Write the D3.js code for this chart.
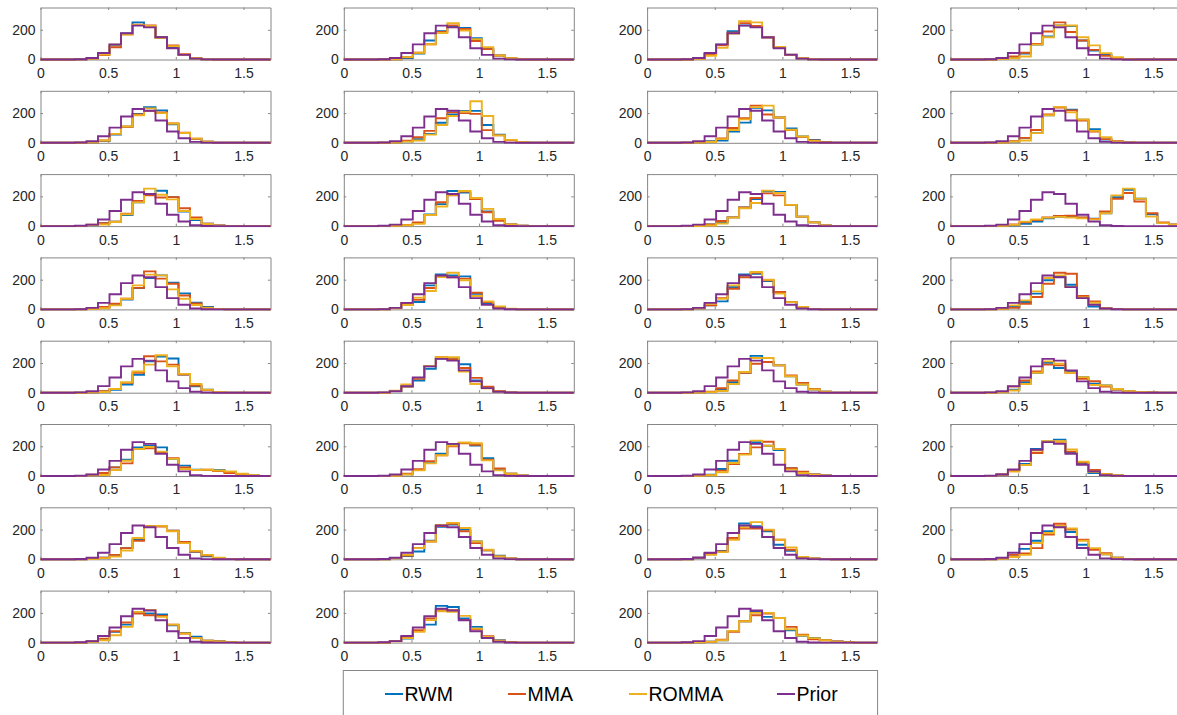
<!DOCTYPE html>
<html>
<head>
<meta charset="utf-8">
<script src="https://cdn.jsdelivr.net/npm/d3@7"></script>
<style>
  html, body { margin: 0; padding: 0; background: #fff; overflow: hidden; }
  svg { display: block; }
  text { font-family: "Liberation Sans", Arial, Helvetica, sans-serif; }
</style>
</head>
<body>
<svg id="fig" width="1177" height="715"></svg>
<script>
// Histogram bin edges (20 bins of width 0.085 over [0, 1.7])
const binEdges = [0, 0.085, 0.17, 0.255, 0.34, 0.425, 0.51, 0.595, 0.68, 0.765, 0.85,
                  0.935, 1.02, 1.105, 1.19, 1.275, 1.36, 1.445, 1.53, 1.615, 1.7];
const xTicks = [0, 0.5, 1, 1.5];
const xTickLabels = ["0", "0.5", "1", "1.5"];
const yTicks = [0, 200];
const yTickLabels = ["0", "200"];
const seriesNames = ["RWM", "MMA", "ROMMA", "Prior"];
const seriesColors = ["#0072BD", "#D95319", "#EDB120", "#7E2F8E"];

// Prior sample counts per bin (same prior in every panel)
const priorCounts = [0,0,0,2,10,44,102,177,228,216,150,76,31,6,1,0,0,0,0,0];

// RWM posterior counts, one row per parameter panel
const rwmCounts = [
  [0,0,0,1,8,38,95,175,250,222,150,82,30,6,1,0,0,0,0,0],
  [0,0,0,0,2,10,40,128,190,225,213,144,70,27,8,2,0,0,0,0],
  [0,0,0,0,8,38,100,191,230,220,150,85,32,8,2,0,0,0,0,0],
  [0,0,0,0,5,15,40,100,155,229,225,128,60,31,10,2,0,0,0,0],
  [0,0,0,0,3,12,55,108,195,240,218,125,66,26,7,1,0,0,0,0],
  [0,0,0,0,3,10,25,60,135,190,215,215,120,55,18,5,1,0,0,0],
  [0,0,0,0,3,10,15,75,136,235,218,170,97,42,20,5,1,0,0,0],
  [0,0,0,0,3,8,33,65,185,240,222,155,92,22,8,2,0,0,0,0],
  [0,0,0,0,8,20,30,75,160,211,238,195,98,41,16,4,0,0,0,0],
  [0,0,0,0,3,8,20,78,148,236,225,182,98,48,11,3,0,0,0,0],
  [0,0,0,0,2,11,25,59,125,182,234,230,143,64,25,5,0,0,0,0],
  [0,0,0,0,2,5,15,30,52,62,64,57,50,86,195,245,184,80,22,10],
  [0,0,0,0,4,14,30,67,144,211,229,180,108,45,16,3,0,0,0,0],
  [0,0,0,0,10,30,50,162,236,229,222,105,40,16,3,0,0,0,0,0],
  [0,0,0,0,8,27,54,150,236,240,190,117,49,16,3,0,0,0,0,0],
  [0,0,0,0,5,16,50,106,196,218,166,76,20,8,2,0,0,0,0,0],
  [0,0,0,0,3,8,20,55,120,211,243,230,123,43,20,5,0,0,0,0],
  [0,0,0,0,11,41,82,161,230,234,191,82,36,11,2,0,0,0,0,0],
  [0,0,0,0,2,5,20,70,134,248,207,184,111,55,22,7,0,0,0,0],
  [0,0,0,0,4,20,70,134,202,166,143,105,60,48,22,10,4,2,0,0],
  [0,0,0,0,6,15,58,110,193,204,193,115,70,42,40,40,25,10,3,0],
  [0,0,0,0,3,12,40,95,150,215,222,205,120,40,15,4,0,0,0,0],
  [0,0,0,0,3,8,47,103,148,227,204,175,52,25,10,3,0,0,0,0],
  [0,0,0,0,10,40,81,182,232,245,160,81,20,12,3,0,0,0,0,0],
  [0,0,0,0,3,11,30,75,132,223,225,193,109,50,20,8,3,0,0,0],
  [0,0,0,0,8,22,52,125,218,234,200,120,60,25,5,0,0,0,0,0],
  [0,0,0,0,10,34,57,136,241,223,189,98,57,16,5,2,0,0,0,0],
  [0,0,0,0,5,20,70,125,189,225,184,98,70,34,11,3,0,0,0,0],
  [0,0,0,0,6,20,72,121,207,196,189,117,65,40,13,9,4,0,0,0],
  [0,0,0,0,10,27,79,121,247,240,162,106,38,16,4,0,0,0,0,0],
  [0,0,0,0,2,6,16,79,144,209,173,166,83,45,31,18,8,3,0,0]
];

// MMA posterior counts
const mmaCounts = [
  [0,0,0,1,6,30,82,170,235,230,148,95,35,8,1,0,0,0,0,0],
  [0,0,0,0,2,15,45,103,185,230,205,125,70,27,8,2,0,0,0,0],
  [0,0,0,0,7,35,95,180,245,225,148,84,32,8,2,0,0,0,0,0],
  [0,0,0,0,5,20,45,105,188,250,185,128,65,25,8,2,0,0,0,0],
  [0,0,0,0,3,15,60,108,190,215,205,130,68,27,7,1,0,0,0,0],
  [0,0,0,0,3,14,37,80,165,205,200,195,85,50,16,4,1,0,0,0],
  [0,0,0,0,3,8,30,100,165,250,190,170,85,40,15,4,1,0,0,0],
  [0,0,0,0,3,10,33,86,190,238,218,150,75,25,10,3,0,0,0,0],
  [0,0,0,0,10,20,30,84,170,207,193,195,120,59,16,4,0,0,0,0],
  [0,0,0,0,3,8,25,75,161,207,232,182,93,35,11,3,0,0,0,0],
  [0,0,0,0,2,11,34,59,125,189,220,207,143,64,25,5,0,0,0,0],
  [0,0,0,0,3,11,25,41,59,68,70,59,48,98,184,223,166,86,25,11],
  [0,0,0,0,4,16,38,72,145,256,207,173,94,40,12,3,0,0,0,0],
  [0,0,0,0,10,40,65,144,225,216,207,112,50,16,3,0,0,0,0,0],
  [0,0,0,0,8,27,76,139,216,247,196,117,49,16,3,0,0,0,0,0],
  [0,0,0,0,4,10,38,83,173,247,240,90,54,8,2,0,0,0,0,0],
  [0,0,0,0,3,10,25,66,134,245,211,189,123,48,18,4,0,0,0,0],
  [0,0,0,0,11,41,93,180,239,225,166,100,41,11,2,0,0,0,0,0],
  [0,0,0,0,2,6,30,82,134,195,207,184,116,66,25,7,0,0,0,0],
  [0,0,0,0,5,41,82,143,189,184,134,93,77,41,22,8,4,2,0,0],
  [0,0,0,0,8,20,58,85,182,186,160,120,58,40,42,33,20,13,4,0],
  [0,0,0,0,3,15,45,100,140,200,220,210,110,50,15,4,0,0,0,0],
  [0,0,0,0,3,6,36,81,148,193,231,182,52,29,10,3,0,0,0,0],
  [0,0,0,0,10,40,74,155,231,231,164,90,40,14,3,0,0,0,0,0],
  [0,0,0,0,3,11,30,75,125,223,220,193,116,52,25,8,3,0,0,0],
  [0,0,0,0,8,25,75,120,223,239,189,109,60,20,5,0,0,0,0,0],
  [0,0,0,0,10,41,52,143,207,207,195,132,64,16,5,2,0,0,0,0],
  [0,0,0,0,5,30,40,75,166,239,200,132,64,41,11,3,0,0,0,0],
  [0,0,0,0,8,27,76,135,196,184,180,121,61,30,13,8,3,0,0,0],
  [0,0,0,0,10,38,83,162,218,218,153,90,43,12,4,0,0,0,0,0],
  [0,0,0,0,2,6,20,72,144,184,196,166,106,54,22,16,8,3,0,0]
];

// ROMMA posterior counts
const rommaCounts = [
  [0,0,0,1,7,33,100,168,232,225,145,90,30,7,1,0,0,0,0,0],
  [0,0,0,0,2,16,45,103,178,245,195,137,83,27,8,2,0,0,0,0],
  [0,0,0,0,5,25,78,175,258,250,152,85,30,8,2,0,0,0,0,0],
  [0,0,0,0,3,8,20,100,150,229,229,150,95,43,15,3,0,0,0,0],
  [0,0,0,0,3,15,60,110,185,232,200,130,66,28,8,1,0,0,0,0],
  [0,0,0,0,2,8,15,55,120,180,210,280,180,50,20,5,1,0,0,0],
  [0,0,0,0,2,5,25,86,158,240,250,170,88,42,12,3,0,0,0,0],
  [0,0,0,0,2,8,15,65,185,242,205,157,80,37,8,2,0,0,0,0],
  [0,0,0,0,8,11,28,80,160,252,211,180,102,48,14,3,0,0,0,0],
  [0,0,0,0,2,6,15,75,132,211,236,189,116,48,11,3,0,0,0,0],
  [0,0,0,0,1,4,18,57,120,155,239,223,143,64,25,5,0,0,0,0],
  [0,0,0,0,2,8,30,45,57,62,57,52,45,86,207,252,184,64,20,10],
  [0,0,0,0,3,8,27,72,162,234,229,135,72,30,10,2,0,0,0,0],
  [0,0,0,0,8,30,79,124,218,247,196,90,54,20,4,0,0,0,0,0],
  [0,0,0,0,8,38,72,162,225,252,200,106,49,16,3,0,0,0,0,0],
  [0,0,0,0,4,27,61,121,211,229,151,80,45,8,2,0,0,0,0,0],
  [0,0,0,0,2,5,25,70,143,189,252,177,127,59,20,5,0,0,0,0],
  [0,0,0,0,13,55,100,180,239,239,143,59,30,8,2,0,0,0,0,0],
  [0,0,0,0,1,4,11,59,139,234,234,184,111,55,22,6,0,0,0,0],
  [0,0,0,0,3,15,59,134,211,195,134,105,52,48,25,10,5,2,0,0],
  [0,0,0,0,5,7,40,103,182,195,164,115,47,40,42,37,30,15,5,0],
  [0,0,0,0,2,10,38,85,140,205,225,220,105,38,15,3,0,0,0,0],
  [0,0,0,0,2,5,25,88,144,238,204,182,43,20,8,2,0,0,0,0],
  [0,0,0,0,8,30,74,171,234,234,178,97,29,12,3,0,0,0,0,0],
  [0,0,0,0,2,8,18,59,143,223,225,189,109,57,30,10,3,0,0,0],
  [0,0,0,0,6,30,75,120,232,245,211,120,64,20,5,0,0,0,0,0],
  [0,0,0,0,8,30,48,132,216,250,200,132,80,16,5,2,0,0,0,0],
  [0,0,0,0,3,15,30,110,177,225,207,125,75,34,11,3,0,0,0,0],
  [0,0,0,0,5,16,49,106,207,220,173,121,61,30,12,8,3,0,0,0],
  [0,0,0,0,8,30,72,151,211,207,180,94,38,12,3,0,0,0,0,0],
  [0,0,0,0,2,5,16,79,144,200,200,166,90,48,30,16,6,2,0,0]
];

// ---- layout ----
const svg = d3.select("#fig");
const nCols = 4;
const panelW = 230, panelH = 52;
const colLeft = c => 40.5 + 303.3 * c;
const rowTop = r => 7.5 + 83.3 * r;
const axisColor = "#868686";
const labelColor = "#262626";

const x = d3.scaleLinear().domain([0, 1.7]).range([0, panelW]);
const y = d3.scaleLinear().domain([0, 350]).range([panelH, 0]);

// Stair outline of a histogram: up from zero at the first edge, across every bin, back to zero
const stairLine = d3.line().x(d => x(d[0])).y(d => y(d[1]));
function stairPoints(counts) {
  const pts = [[binEdges[0], 0]];
  counts.forEach((c, i) => {
    pts.push([binEdges[i], c]);
    pts.push([binEdges[i + 1], c]);
  });
  pts.push([binEdges[binEdges.length - 1], 0]);
  return pts;
}

function styleAxis(g) {
  g.selectAll(".domain").attr("stroke", axisColor).attr("stroke-width", 1);
  g.selectAll(".tick line").attr("stroke", axisColor).attr("stroke-width", 1);
  g.selectAll(".tick text").attr("fill", labelColor).attr("font-size", 14)
    .attr("font-family", "'Liberation Sans', Arial, Helvetica, sans-serif");
}

rwmCounts.forEach((_, i) => {
  const r = Math.floor(i / nCols), c = i % nCols;
  const g = svg.append("g").attr("transform", `translate(${colLeft(c)},${rowTop(r)})`);

  g.append("rect").attr("width", panelW).attr("height", panelH).attr("fill", "#fff");

  // box with inward ticks on all four sides
  g.append("g").attr("transform", `translate(0,${panelH})`)
    .call(d3.axisBottom(x).tickValues(xTicks).tickFormat((d, k) => xTickLabels[k])
      .tickSizeInner(-2.5).tickSizeOuter(0).tickPadding(8.5))
    .call(styleAxis);
  g.append("g")
    .call(d3.axisTop(x).tickValues(xTicks).tickFormat("").tickSizeInner(-2.5).tickSizeOuter(0))
    .call(styleAxis);
  g.append("g")
    .call(d3.axisLeft(y).tickValues(yTicks).tickFormat((d, k) => yTickLabels[k])
      .tickSizeInner(-2.5).tickSizeOuter(0).tickPadding(5))
    .call(styleAxis);
  g.append("g").attr("transform", `translate(${panelW},0)`)
    .call(d3.axisRight(y).tickValues(yTicks).tickFormat("").tickSizeInner(-2.5).tickSizeOuter(0))
    .call(styleAxis);

  const sets = [rwmCounts[i], mmaCounts[i], rommaCounts[i], priorCounts];
  sets.forEach((counts, s) => {
    g.append("path")
      .attr("d", stairLine(stairPoints(counts)))
      .attr("fill", "none")
      .attr("stroke", seriesColors[s])
      .attr("stroke-width", 1.9)
      .attr("stroke-linejoin", "miter");
  });
});

// ---- legend ----
const legendLeft = colLeft(1) - 1, legendRight = colLeft(2) + panelW;
const legend = svg.append("g");
legend.append("rect")
  .attr("x", legendLeft + 0.5).attr("y", 670.5)
  .attr("width", legendRight - legendLeft).attr("height", 80)
  .attr("fill", "#fff").attr("stroke", axisColor).attr("stroke-width", 1);

const legendItemX = [385, 508, 629, 777];
const legendY = 694;
seriesNames.forEach((name, s) => {
  const lx = legendItemX[s];
  legend.append("line")
    .attr("x1", lx).attr("x2", lx + 18).attr("y1", legendY).attr("y2", legendY)
    .attr("stroke", seriesColors[s]).attr("stroke-width", 2);
  legend.append("text")
    .attr("x", lx + 19.5).attr("y", legendY)
    .attr("dominant-baseline", "central")
    .attr("font-size", 19.5).attr("fill", "#000")
    .text(name);
});
</script>
</body>
</html>
